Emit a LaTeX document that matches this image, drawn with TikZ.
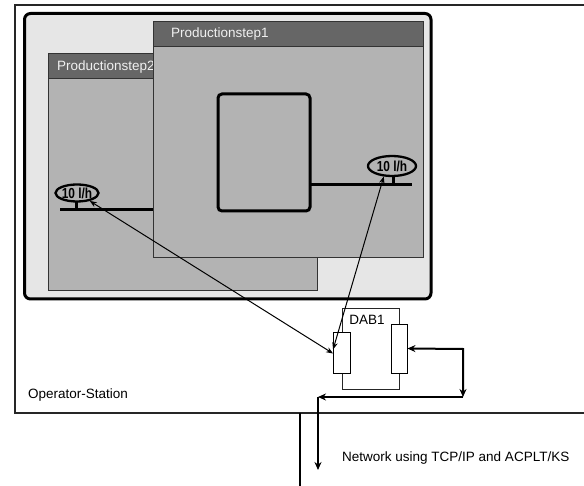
\documentclass[tikz,border=0pt]{standalone}
\usepackage{fontspec}
\usepackage{graphicx}
\setmainfont{Liberation Sans}
\usetikzlibrary{shapes.geometric,arrows.meta,calc}
\definecolor{titlegray}{HTML}{666666}
\definecolor{bodygray}{HTML}{B3B3B3}
\definecolor{panelgray}{HTML}{E6E6E6}
\definecolor{titletext}{HTML}{F0F0F0}
\newcommand{\flowtext}{\scalebox{0.82}[1]{\bfseries\fontsize{14.5}{14.5}\selectfont 10 l/h}}
\begin{document}
\begin{tikzpicture}[x=1pt,y=-1pt,
  lbl/.style={font=\fontsize{13.5}{16}\selectfont, inner sep=0pt},
  titlelbl/.style={lbl, text=titletext, anchor=west},
  wintitle/.style={fill=titlegray, draw=black!80, line width=1pt},
  winbody/.style={fill=bodygray, draw=black!80, line width=1pt},
  flow/.style={draw, ellipse, line width=2.3pt, fill=bodygray, inner sep=0pt},
  pipe/.style={line width=3pt},
  port/.style={draw, fill=white, line width=0.9pt, inner sep=0pt},
  link/.style={line width=1pt, {Stealth[length=7pt,width=5.5pt]}-{Stealth[length=7pt,width=5.5pt]}},
  bustip/.style={line width=2pt},
]
\useasboundingbox (0,0) rectangle (584,486);

% Operator-Station frame (open to the right)
\draw[line width=2pt, black!85] (584,5) -- (15,5) -- (15,413) -- (584,413);
\node[lbl, anchor=west] (opst) at (28,395) {Operator-Station};

% rounded panel
\draw[fill=panelgray, line width=3pt, rounded corners=6pt] (24.5,13.5) rectangle (431,299);

% Productionstep2 window
\draw[winbody] (48,54) rectangle (317,291);
\draw[wintitle] (48,54) rectangle (317,79);
\node[titlelbl] (t2) at (57,67) {Productionstep2};
\draw[pipe] (60,210) -- (153,210);
\draw[pipe] (76,210) -- (76,200);
\node[flow, minimum width=43pt, minimum height=17pt] (e2) at (77,193) {\flowtext};

% Productionstep1 window
\draw[winbody] (153,22) rectangle (423,258);
\draw[wintitle] (153,22) rectangle (423,47);
\node[titlelbl] (t1) at (171,34) {Productionstep1};
\draw[pipe, rounded corners=4pt] (218,94) rectangle (310,211);
\draw[pipe] (310,185) -- (412,185);
\draw[pipe] (393,185) -- (393,175);
\node[flow, minimum width=48pt, minimum height=20pt] (e1) at (392,166) {\flowtext};

% DAB1
\draw[line width=0.9pt, black!85] (342,308) rectangle (399,389);
\node[lbl] (dab) at (367,320) {DAB1};
\node[port, minimum width=17pt, minimum height=41pt] (lp) at (342,352.5) {};
\node[port, minimum width=16pt, minimum height=49pt] (rp) at (399,348.5) {};

% links from displays to DAB1
\draw[link] (e2.-32) -- ([yshift=-1pt]lp.west);
\draw[link] (e1.-128) -- ([yshift=3pt]lp.west);

% connection to network
\coordinate (c1) at (463,349);
\coordinate (c2) at (463,397);
\coordinate (c3) at (318,397);
\coordinate (c4) at (318,470);
\draw[bustip, {Stealth[length=8pt,width=7pt]}-{Stealth[length=8pt,width=7pt]}] (rp.east) -- (c1) -- (c2);
\draw[bustip, -{Stealth[length=8pt,width=7pt]}] (c2) -- (c3);
\draw[bustip, -{Stealth[length=8pt,width=7pt]}] (c3) -- (c4);

% network
\coordinate (n1) at (300,413);
\coordinate (n2) at (300,486);
\draw[line width=2.5pt] (n1) -- (n2);
\node[lbl, anchor=west] (net) at (342,458) {Network using TCP/IP and ACPLT/KS};
\end{tikzpicture}
\end{document}
